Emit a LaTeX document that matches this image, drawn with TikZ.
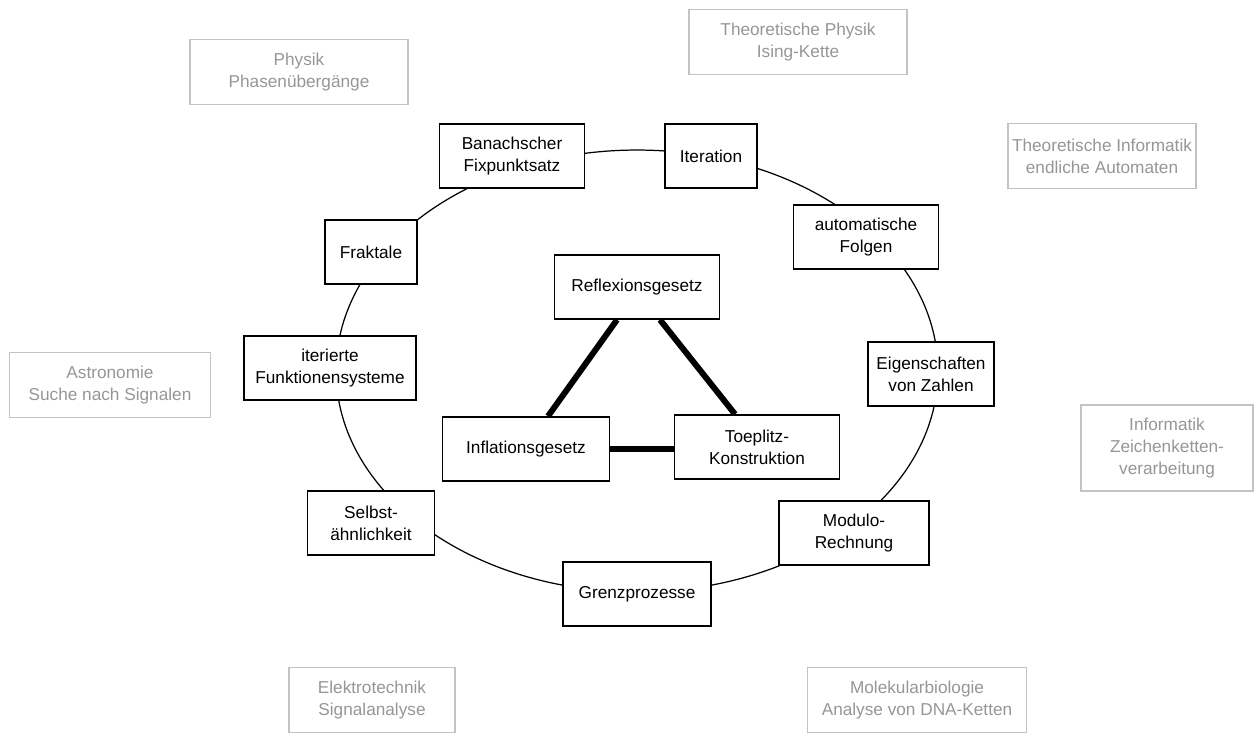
\documentclass[tikz,border=0pt]{standalone}
\usepackage{fontspec}
\setmainfont{Liberation Sans}
\usetikzlibrary{positioning}
\definecolor{fieldtext}{RGB}{150,150,150}
\definecolor{fieldframe}{RGB}{195,195,195}
\tikzstyle{topic} = [rectangle, draw=black, line width=0.9pt, fill=white, minimum height=1.28cm, inner sep=2pt, align=center, font=\fontsize{9.8}{12.5}\selectfont]
\tikzstyle{field} = [rectangle, draw=fieldframe, line width=0.9pt, minimum height=1.3cm, inner sep=2pt, align=center, text=fieldtext, font=\fontsize{9.8}{12.5}\selectfont]
\tikzstyle{link}  = [line width=3.4pt]
\tikzstyle{ring}  = [line width=0.7pt]

\begin{document}
\begin{tikzpicture}[x=0.02cm, y=-0.02cm]
\useasboundingbox (0,0) rectangle (1256,733);

% Ring um die Themen
\coordinate (mitte) at (637,371);
\draw [ring] (mitte) ellipse [x radius=6.02cm, y radius=4.42cm];

% Themen auf dem Ring
\node (banach)  [topic, minimum width=2.9cm]  at (512,156) {Banachscher\\Fixpunktsatz};
\node (iter)    [topic, minimum width=1.84cm] at (711,156) {Iteration};
\node (fraktal) [topic, minimum width=1.84cm] at (371,252) {Fraktale};
\node (auto)    [topic, minimum width=2.9cm]  at (866,237) {automatische\\Folgen};
\node (ifs)     [topic, minimum width=3.44cm] at (330,368) {iterierte\\Funktionensysteme};
\node (zahlen)  [topic, minimum width=2.52cm] at (931,374) {Eigenschaften\\von Zahlen};
\node (selbst)  [topic, minimum width=2.54cm] at (371,523) {Selbst-\\ähnlichkeit};
\node (modulo)  [topic, minimum width=3.0cm]  at (854,533) {Modulo-\\Rechnung};
\node (grenz)   [topic, minimum width=2.96cm] at (637,594) {Grenzprozesse};

% Dreieck in der Mitte
\node (reflex)   [topic, minimum width=3.3cm]  at (637,287) {Reflexionsgesetz};
\node (inflat)   [topic, minimum width=3.34cm] at (526,449) {Inflationsgesetz};
\node (toeplitz) [topic, minimum width=3.3cm]  at (757,447) {Toeplitz-\\Konstruktion};

\draw [link] ([xshift=-0.4cm]reflex.south) -- ([xshift=0.44cm]inflat.north);
\draw [link] ([xshift=0.46cm]reflex.south) -- ([xshift=-0.44cm]toeplitz.north);
\draw [link] (inflat.east) -- (toeplitz.west |- inflat.east);

% Anwendungsgebiete aussen
\node (physik)   [field, minimum width=4.36cm] at (299,72)   {Physik\\Phasenübergänge};
\node (theophys) [field, minimum width=4.36cm] at (798,42)   {Theoretische Physik\\Ising-Kette};
\node (theoinf)  [field, minimum width=3.76cm] at (1102,156) {Theoretische Informatik\\endliche Automaten};
\node (astro)    [field, minimum width=4.02cm] at (110,385)  {Astronomie\\Suche nach Signalen};
\node (inform)   [field, minimum width=3.44cm, minimum height=1.72cm] at (1167,448) {Informatik\\Zeichenketten-\\verarbeitung};
\node (elektro)  [field, minimum width=3.32cm] at (372,700)  {Elektrotechnik\\Signalanalyse};
\node (molekul)  [field, minimum width=4.38cm] at (917,700)  {Molekularbiologie\\Analyse von DNA-Ketten};

\end{tikzpicture}
\end{document}
